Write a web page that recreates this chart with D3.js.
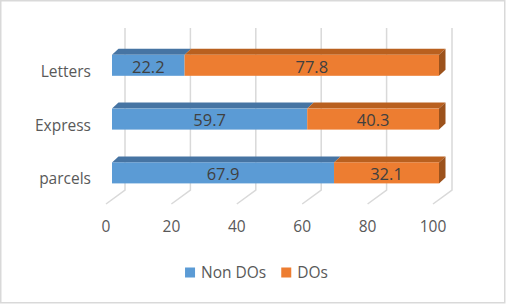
<!DOCTYPE html>
<html>
<head>
<meta charset="utf-8">
<script src="https://cdn.jsdelivr.net/npm/d3@7"></script>
<style>
  body { margin: 0; background: #fff; }
  svg { display: block; font-family: "Open Sans", sans-serif; }
</style>
</head>
<body>
<div id="chart"></div>
<script>
const categories = ["Letters", "Express", "parcels"]
const seriesNames = ["Non DOs", "DOs"]
const nonDOs = [22.2, 59.7, 67.9]
const dos = [77.8, 40.3, 32.1]
const ticks = [0, 20, 40, 60, 80, 100]
const colors = ["#5b9bd5", "#ed7d31"]
const topColors = ["#4674a3", "#b9601f"]
const sideColors = ["#3b6590", "#9c521c"]

const width = 506
const height = 304

// back wall & 3d offsets
const wallTop = 28
const wallBottom = 190
const floorDx = -19, floorDy = 14
const barShift = -13           // bar front plane vs back wall
const depthX = 6.5, depthY = -6 // bar depth (front -> back)
const barH = 21

const x = d3.scaleLinear().domain([0, 100]).range([125, 452])
const xf = v => x(v) + barShift
const y = d3.scalePoint().domain(categories).range([38.4, 199.8]).padding(0.5)

const rows = categories.map((c, i) => ({ cat: c, "Non DOs": nonDOs[i], "DOs": dos[i] }))
const stacked = d3.stack().keys(seriesNames)(rows)

const svg = d3.select("#chart").append("svg")
    .attr("width", width)
    .attr("height", height)

svg.append("rect")
    .attr("x", 0.75).attr("y", 0.75)
    .attr("width", width - 2).attr("height", height - 2)
    .attr("fill", "#fff")
    .attr("stroke", "#d9d9d9")
    .attr("stroke-width", 1.5)

// gridlines: back wall + floor
svg.append("g")
    .attr("stroke", "#d9d9d9")
    .attr("stroke-width", 1.5)
    .attr("fill", "none")
    .selectAll("polyline")
    .data(ticks)
    .join("polyline")
    .attr("points", d => `${x(d)},${wallTop} ${x(d)},${wallBottom} ${x(d) + floorDx},${wallBottom + floorDy}`)

// tick labels
svg.append("g")
    .attr("fill", "#595959")
    .attr("font-size", 15.5)
    .attr("text-anchor", "middle")
    .selectAll("text")
    .data(ticks)
    .join("text")
    .attr("x", d => x(d) + floorDx)
    .attr("y", 227)
    .attr("dy", "0.35em")
    .text(d => d)

// category labels
svg.append("g")
    .attr("fill", "#595959")
    .attr("font-size", 15.5)
    .attr("text-anchor", "end")
    .selectAll("text")
    .data(categories)
    .join("text")
    .attr("x", 91)
    .attr("y", d => y(d) + 6)
    .attr("dy", "0.35em")
    .text(d => d)

// bars
const segs = []
stacked.forEach((s, si) => s.forEach((d, i) => segs.push({ si, cat: categories[i], v0: d[0], v1: d[1], last: si === stacked.length - 1 })))

const bars = svg.append("g")
categories.forEach(cat => {
    const g = bars.append("g")
    const cs = segs.filter(d => d.cat === cat)
    const top = y(cat) - barH / 2
    const bot = y(cat) + barH / 2

    g.selectAll("polygon.top")
        .data(cs)
        .join("polygon")
        .attr("class", "top")
        .attr("fill", d => topColors[d.si])
        .attr("points", d => [
            [xf(d.v0), top], [xf(d.v1), top],
            [xf(d.v1) + depthX, top + depthY], [xf(d.v0) + depthX, top + depthY]
        ].join(" "))

    g.selectAll("polygon.side")
        .data(cs.filter(d => d.last))
        .join("polygon")
        .attr("class", "side")
        .attr("fill", d => sideColors[d.si])
        .attr("points", d => [
            [xf(d.v1), top], [xf(d.v1) + depthX, top + depthY],
            [xf(d.v1) + depthX, bot + depthY], [xf(d.v1), bot]
        ].join(" "))

    g.selectAll("rect")
        .data(cs)
        .join("rect")
        .attr("x", d => xf(d.v0))
        .attr("y", top)
        .attr("width", d => xf(d.v1) - xf(d.v0))
        .attr("height", barH)
        .attr("fill", d => colors[d.si])

    g.selectAll("text")
        .data(cs)
        .join("text")
        .attr("x", d => (xf(d.v0) + xf(d.v1)) / 2)
        .attr("y", y(cat) + 1.5)
        .attr("dy", "0.35em")
        .attr("text-anchor", "middle")
        .attr("font-size", 16.5)
        .attr("fill", "#404040")
        .text(d => (d.v1 - d.v0).toFixed(1))
})

// legend
const legend = svg.append("g").attr("font-size", 15.5).attr("fill", "#595959")
let lx = 0
const items = seriesNames.map((name, i) => {
    const it = legend.append("g").attr("transform", `translate(${lx},0)`)
    it.append("rect").attr("x", 0).attr("y", -5).attr("width", 10).attr("height", 10).attr("fill", colors[i])
    const t = it.append("text").attr("x", 16).attr("dy", "0.35em").text(name)
    lx += 16 + t.node().getComputedTextLength() + 15
    return it
})
const legendW = lx - 15
legend.attr("transform", `translate(${185 + (143 - legendW) / 2},272.5)`)
</script>
</body>
</html>
